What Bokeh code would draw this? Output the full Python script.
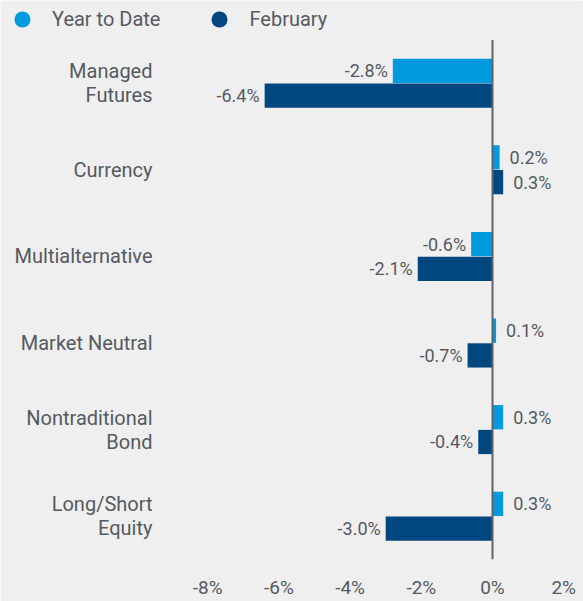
from bokeh.plotting import figure
from bokeh.models import (ColumnDataSource, Range1d, Legend, LegendItem, FixedTicker)
from bokeh.transform import dodge
from bokeh.core.properties import value
from bokeh.embed import file_html
from bokeh.resources import INLINE

# ---- data ----
categories = ["Managed\nFutures", "Currency", "Multialternative", "Market Neutral",
              "Nontraditional\nBond", "Long/Short\nEquity"]
ytd = [-2.8, 0.2, -0.6, 0.1, 0.3, 0.3]
february = [-6.4, 0.3, -2.1, -0.7, -0.4, -3.0]
series_names = ["Year to Date", "February"]
tick_values = [-8, -6, -4, -2, 0, 2]
tick_labels = ["-8%", "-6%", "-4%", "-2%", "0%", "2%"]

LIGHT = "#009bdf"
DARK = "#00467f"
TEXT = "#555a61"
BG = "#efefef"
FONT = "Roboto"

W, H = 583, 601
BOTTOM = 34          # space for the x-axis labels
RIGHT = 8
ZERO_PX = 492        # screen x of the 0% line
PX_PER_UNIT = 35.6   # pixels per 1%
ROW_PX = 87.8        # pixels per category
TOP_PX = 40          # legend strip height
LABEL_RIGHT = 152    # right edge of category labels

n = len(categories)
frame_w = W - RIGHT
frame_h = H - BOTTOM
x_start = -ZERO_PX / PX_PER_UNIT
x_end = (frame_w - ZERO_PX) / PX_PER_UNIT

def fmt(v):
    return f"{v:.1f}%"

ypos = [n - 1 - i for i in range(n)]
src = ColumnDataSource(dict(
    cat=categories, y=ypos, ytd=ytd, feb=february,
    ytd_lbl=[fmt(v) for v in ytd], feb_lbl=[fmt(v) for v in february],
    ytd_align=["right" if v < 0 else "left" for v in ytd],
    feb_align=["right" if v < 0 else "left" for v in february],
    ytd_off=[-5 if v < 0 else 10 for v in ytd],
    feb_off=[-5 if v < 0 else 10 for v in february],
    lab_x=[x_start] * n,
))

p = figure(width=W, height=H, output_backend="svg", toolbar_location=None,
           x_range=Range1d(x_start, x_end),
           y_range=Range1d(-0.5, n - 0.5 + TOP_PX / ROW_PX),
           min_border_left=0, min_border_right=RIGHT, min_border_top=0,
           min_border_bottom=BOTTOM, y_axis_location=None)
p.background_fill_color = BG
p.border_fill_color = BG
p.outline_line_color = None
p.xgrid.grid_line_color = None
p.ygrid.grid_line_color = None

off = 0.143
h = 0.28
p.hbar(y=dodge("y", off), left=0, right="ytd", height=h,
       source=src, fill_color=LIGHT, line_color=None)
p.hbar(y=dodge("y", -off), left=0, right="feb", height=h,
       source=src, fill_color=DARK, line_color=None)

p.text(x="ytd", y=dodge("y", off), text="ytd_lbl", source=src,
       text_align="ytd_align", text_baseline="middle", x_offset="ytd_off",
       text_font=value(FONT), text_font_size="18px", text_color=TEXT)
p.text(x="feb", y=dodge("y", -off), text="feb_lbl", source=src,
       text_align="feb_align", text_baseline="middle", x_offset="feb_off",
       text_font=value(FONT), text_font_size="18px", text_color=TEXT)

# category labels
p.text(x="lab_x", y="y", text="cat", source=src, x_offset=LABEL_RIGHT,
       text_align="right", text_baseline="middle", text_line_height=1.0,
       text_font=value(FONT), text_font_size="20px", text_color=TEXT)

# zero line over the category block
p.segment(x0=[0], x1=[0], y0=[-0.5], y1=[n - 0.5], line_color="#5f6368", line_width=2)

# legend markers (one hidden NaN point each, so the legend can draw the swatch)
nan = float("nan")
d1 = p.scatter(x=[nan], y=[nan], marker="circle", size=16, fill_color=LIGHT, line_color=None)
d2 = p.scatter(x=[nan], y=[nan], marker="circle", size=16, fill_color=DARK, line_color=None)
legend = Legend(items=[LegendItem(label=series_names[0], renderers=[d1]),
                       LegendItem(label=series_names[1], renderers=[d2])],
                orientation="horizontal", location=(1, frame_h - TOP_PX - 7),
                glyph_width=42, glyph_height=40, label_standoff=9, spacing=38,
                padding=0, margin=0, border_line_color=None, background_fill_alpha=0,
                label_text_font=FONT, label_text_font_size="20px", label_text_color=TEXT)
p.add_layout(legend, "center")

xa = p.xaxis[0]
xa.ticker = FixedTicker(ticks=tick_values)
xa.major_label_overrides = {t: l for t, l in zip(tick_values, tick_labels)}
xa.axis_line_color = None
xa.major_tick_line_color = None
xa.minor_tick_line_color = None
xa.major_label_standoff = 10
xa.major_label_text_font = FONT
xa.major_label_text_font_size = "19px"
xa.major_label_text_color = TEXT

html = file_html(p, INLINE)
html = html.replace("<body>", '<body style="background-color: %s;">' % BG, 1)
open("out.html", "w").write(html)
